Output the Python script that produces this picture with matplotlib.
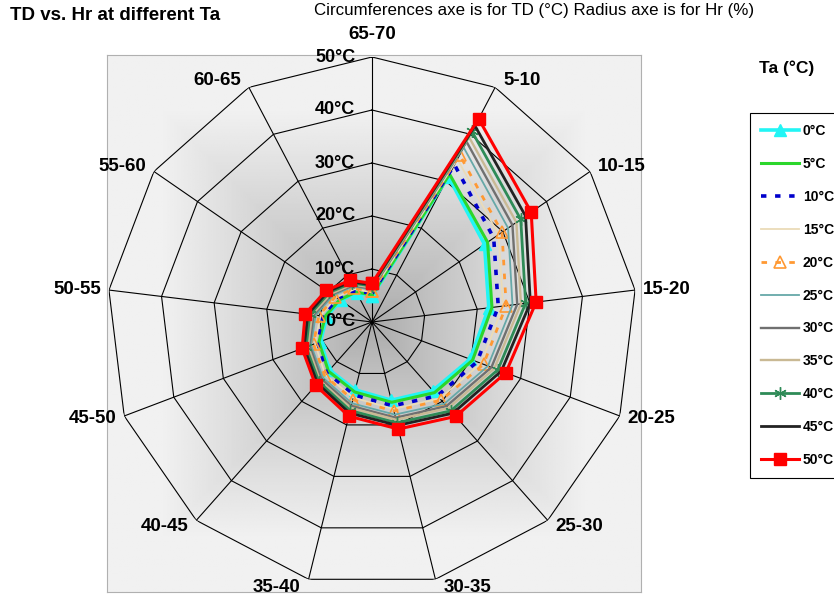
import numpy as np
import matplotlib
matplotlib.use("Agg")
import matplotlib.pyplot as plt

plt.rcParams['font.family'] = ['Liberation Sans', 'DejaVu Sans']

# categories (Hr %) clockwise from the top
categories = ["65-70", "5-10", "10-15", "15-20", "20-25", "25-30", "30-35",
              "35-40", "40-45", "45-50", "50-55", "55-60", "60-65"]
rings = [10, 20, 30, 40, 50]
ring_labels = ["0°C", "10°C", "20°C", "30°C", "40°C", "50°C"]

# TD values (°C) for each Ta
ta_0 = [4.9, 31.0, 25.8, 22.2, 19.8, 17.3, 15.2, 13.2, 12.1, 10.4, 8.6, 7.2, 6.2]
ta_5 = [5.1, 31.5, 26.5, 22.8, 20.3, 17.8, 15.6, 13.6, 12.4, 10.7, 8.9, 7.4, 6.4]
ta_10 = [5.4, 33.5, 27.9, 24.0, 21.2, 18.6, 16.3, 14.2, 12.9, 11.1, 9.4, 7.9, 6.7]
ta_15 = [5.6, 34.7, 29.0, 24.9, 22.0, 19.3, 16.9, 14.7, 13.3, 11.5, 9.8, 8.2, 7.0]
ta_20 = [5.8, 35.6, 29.8, 25.5, 22.5, 19.7, 17.3, 15.1, 13.5, 11.8, 10.1, 8.4, 7.2]
ta_25 = [6.1, 37.2, 31.2, 26.7, 23.4, 20.6, 18.0, 15.8, 14.0, 12.3, 10.7, 8.9, 7.6]
ta_30 = [6.3, 38.4, 32.2, 27.6, 24.1, 21.2, 18.6, 16.3, 14.4, 12.6, 11.1, 9.2, 7.8]
ta_35 = [6.5, 39.4, 33.1, 28.3, 24.7, 21.7, 19.0, 16.7, 14.8, 12.9, 11.4, 9.4, 8.0]
ta_40 = [6.8, 40.6, 34.1, 29.2, 25.4, 22.4, 19.6, 17.2, 15.1, 13.3, 11.8, 9.8, 8.3]
ta_45 = [7.0, 41.8, 35.2, 30.1, 26.1, 23.0, 20.1, 17.7, 15.5, 13.7, 12.2, 10.1, 8.6]
ta_50 = [7.3, 43.3, 36.5, 31.2, 27.0, 23.8, 20.8, 18.3, 16.0, 14.1, 12.7, 10.5, 8.9]

series = [
    ("0°C", ta_0, dict(color="#22F5F5", lw=2.6, marker="^", ms=8)),
    ("5°C", ta_5, dict(color="#2BD62B", lw=2.2)),
    ("10°C", ta_10, dict(color="#0000CC", lw=2.6, ls=(0, (1.5, 2.4)))),
    ("15°C", ta_15, dict(color="#EADBB8", lw=1.3)),
    ("20°C", ta_20, dict(color="#FF9933", lw=2, ls=(0, (2, 3)), marker="^", ms=8,
                         mfc="none", mew=1.2)),
    ("25°C", ta_25, dict(color="#66A8A8", lw=1.3)),
    ("30°C", ta_30, dict(color="#707070", lw=1.7)),
    ("35°C", ta_35, dict(color="#C9B994", lw=1.7)),
    ("40°C", ta_40, dict(color="#2E8B57", lw=2, marker=(6, 2, 0), ms=9)),
    ("45°C", ta_45, dict(color="#222222", lw=2)),
    ("50°C", ta_50, dict(color="#FF0000", lw=2.2, marker="s", ms=8.5)),
]

W, H = 834, 603
fig = plt.figure(figsize=(W / 100, H / 100), dpi=100)

# gradient background square
bg = fig.add_axes([107 / W, 11 / H, 534 / W, 537 / H], zorder=0)
g = np.linspace(-1, 1, 300)
gx, gy = np.meshgrid(g, g)
d = np.maximum(np.abs(gx), np.abs(gy))
grad = np.clip(0.66 + 0.34 * d ** 0.8, 0, 0.945)
bg.imshow(grad, cmap="gray", vmin=0, vmax=1, aspect="auto", extent=(0, 1, 0, 1))
bg.set_xticks([])
bg.set_yticks([])
for s in bg.spines.values():
    s.set_color("#b0b0b0")
    s.set_linewidth(0.8)

# radar axes
ax = fig.add_axes([107 / W, 16 / H, 530 / W, 530 / H], polar=True, zorder=1)
ax.patch.set_alpha(0)
ax.set_theta_zero_location("N")
ax.set_theta_direction(-1)
ax.set_ylim(0, 50)
ax.set_xticks([])
ax.set_yticks([])
ax.grid(False)
ax.spines["polar"].set_visible(False)

n = len(categories)
angles = np.arange(n) * 2 * np.pi / n
closed = np.append(angles, angles[0])

# polygon grid
for r in rings:
    ax.plot(closed, [r] * (n + 1), color="black", lw=0.8, zorder=1)
for a in angles:
    ax.plot([a, a], [0, 50], color="black", lw=0.8, zorder=1)

for label, vals, st in series:
    ax.plot(closed, list(vals) + [vals[0]], label=label, zorder=3, clip_on=False, **st)

# category labels next to the outer vertices
for a, cat in zip(angles, categories):
    s, c = np.sin(a), np.cos(a)
    if abs(s) < 0.1:
        ha, off = "center", (0, 16)
    else:
        ha = "left" if s > 0 else "right"
        off = (5.8 * np.sign(s), 5.8 * c)
    ax.annotate(cat, xy=(a, 50), xytext=off, textcoords="offset points",
                ha=ha, va="center", fontsize=13.5, fontweight="bold",
                annotation_clip=False)

# radial labels
for r, txt in zip([0] + rings, ring_labels):
    ax.annotate(txt, xy=(0, r), xytext=(-12, 0), textcoords="offset points",
                ha="right", va="center", fontsize=13, fontweight="bold",
                annotation_clip=False, zorder=4)

fig.text(10 / W, 1 - 16 / H, "TD vs. Hr at different Ta", fontsize=13.5,
         fontweight="bold", va="center", ha="left")
fig.text(314 / W, 1 - 11 / H,
         "Circumferences axe is for TD (°C) Radius axe is for Hr (%)",
         fontsize=12.2, va="center", ha="left")
fig.text(787 / W, 1 - 68 / H, "Ta (°C)", fontsize=12.5, fontweight="bold",
         va="center", ha="center")

handles, labels = ax.get_legend_handles_labels()
leg = fig.legend(handles, labels, loc="upper left",
                 bbox_to_anchor=(750 / W, 1 - 113 / H), frameon=True,
                 fancybox=False, edgecolor="black", framealpha=1,
                 prop={"weight": "bold", "size": 10}, handlelength=2.7,
                 labelspacing=1.36, borderpad=0.8, handletextpad=0.3,
                 borderaxespad=0)
leg.get_frame().set_linewidth(0.8)

fig.savefig("out.png", dpi=100)
